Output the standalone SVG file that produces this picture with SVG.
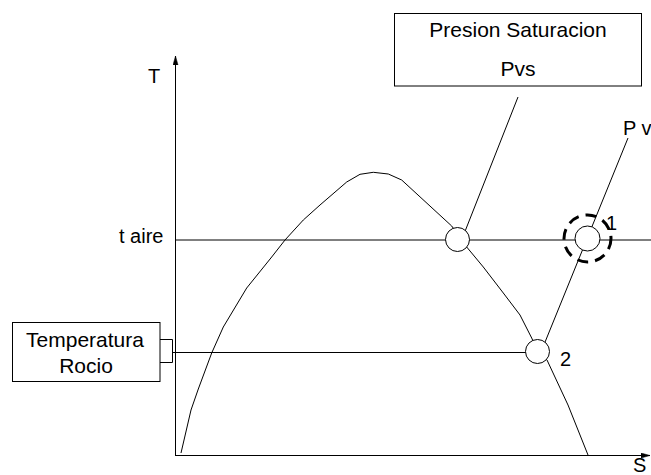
<svg xmlns="http://www.w3.org/2000/svg" width="651" height="475" viewBox="0 0 651 475">
<style>
  .ln { fill: none; stroke: #000; stroke-width: 1; }
  .box { fill: #fff; stroke: #000; stroke-width: 1; }
  .pt { fill: #fff; stroke: #000; stroke-width: 1; }
  .lbl { font-family: "Liberation Sans", Arial, sans-serif; font-size: 20px; fill: #000; }
  .bt { font-family: "Liberation Sans", Arial, sans-serif; font-size: 21px; fill: #000; text-anchor: middle; }
</style>
<defs>
  <marker id="arr" markerUnits="userSpaceOnUse" markerWidth="10" markerHeight="6" refX="9" refY="3" orient="auto">
    <path d="M0,0.5 L9,3 L0,5.5 Z" fill="#000" stroke="#000" stroke-width="0.5"/>
  </marker>
</defs>
<rect width="651" height="475" fill="#fff"/>

<g id="axes">
  <line class="ln" x1="175.5" y1="455.5" x2="175.5" y2="56" marker-end="url(#arr)"/>
  <line class="ln" x1="175" y1="455.5" x2="650" y2="455.5" marker-end="url(#arr)"/>
  <text class="lbl" x="148" y="82.5">T</text>
  <text class="lbl" x="633" y="472">S</text>
</g>

<g id="dome">
  <polyline class="ln" points="181,453 191,410 198.3,389 211.7,353 223.3,327 246.7,288 271.7,257 285,240 303.3,220 320,205 346.7,182 360,174.3 373.3,172.3 388.3,174 401.7,180 451.7,226 466.7,247 483.3,267 503.3,293 520,315 531.7,338 538,352 547,360 568,405 588,455"/>
</g>

<g id="connectors">
  <line class="ln" x1="175" y1="240" x2="651" y2="240"/>
  <text class="lbl" x="119" y="243">t aire</text>
  <line class="ln" x1="172.5" y1="352.5" x2="526" y2="352.5"/>
  <path class="ln" d="M160,339.5 H172.5 V362.5 H160"/>
  <line class="ln" x1="518" y1="97" x2="462" y2="239"/>
  <line class="ln" x1="628" y1="138" x2="541" y2="352"/>
  <text class="lbl" x="623" y="135">P v</text>
</g>

<g id="node-presion">
  <rect class="box" x="394.5" y="13.5" width="247" height="72.5"/>
  <text class="bt" x="518" y="37">Presion Saturacion</text>
  <text class="bt" x="518" y="76">Pvs</text>
</g>

<g id="node-rocio">
  <rect class="box" x="12.5" y="322.5" width="147.5" height="59"/>
  <text class="bt" x="85" y="347">Temperatura</text>
  <text class="bt" x="86" y="373">Rocio</text>
</g>

<g id="node-pvs">
  <circle class="pt" cx="457.5" cy="239.5" r="12"/>
</g>

<g id="node-1">
  <circle class="pt" cx="587.5" cy="238.5" r="12.5"/>
  <circle cx="587.5" cy="238.5" r="23.5" fill="none" stroke="#000" stroke-width="3" stroke-dasharray="11 7"/>
  <text class="lbl" x="606" y="230">1</text>
</g>

<g id="node-2">
  <circle class="pt" cx="537.5" cy="351.5" r="12"/>
  <text class="lbl" x="560" y="366">2</text>
</g>
</svg>
